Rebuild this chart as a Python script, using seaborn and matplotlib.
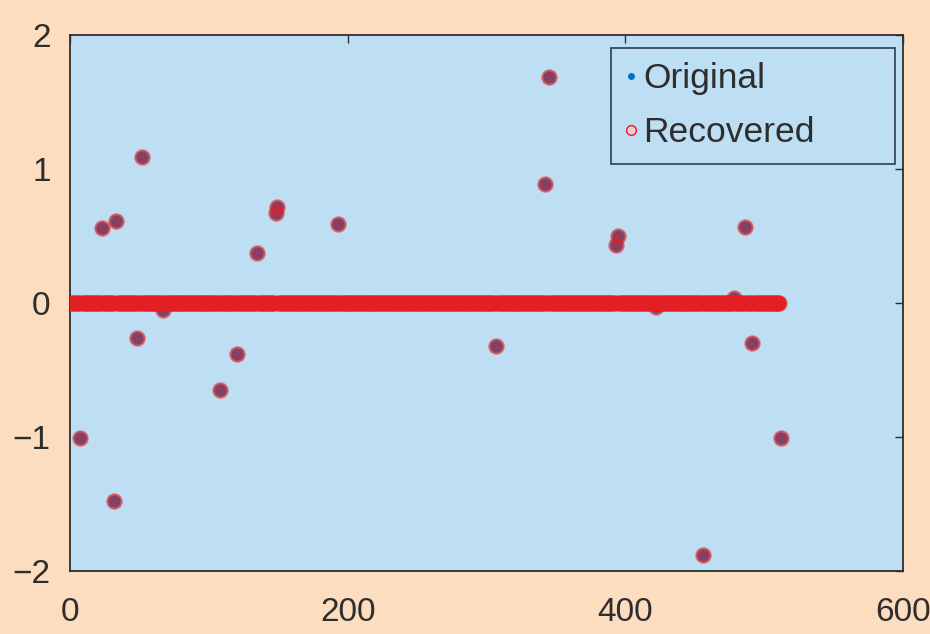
import numpy as np
import pandas as pd
import matplotlib
matplotlib.use('Agg')
import matplotlib.pyplot as plt
import seaborn as sns
from matplotlib.lines import Line2D

# sparse signal, length 512 (non-zero entries)
n_samples = 512
spike_idx = [7, 23, 33, 32, 52, 48, 67, 108, 120, 135, 148, 149, 193,
             307, 342, 345, 393, 395, 422, 456, 478, 486, 491, 512]
spike_val = [-1.01, 0.56, 0.61, -1.48, 1.09, -0.26, -0.05, -0.65, -0.38, 0.37, 0.67, 0.72, 0.59,
             -0.32, 0.89, 1.69, 0.43, 0.50, -0.03, -1.88, 0.04, 0.57, -0.30, -1.01]

x_ticks = [0, 200, 400, 600]
y_ticks = [-2, -1, 0, 1, 2]

original = np.zeros(n_samples)
original[np.array(spike_idx) - 1] = spike_val
recovered = original.copy()

df = pd.DataFrame({'n': np.arange(1, n_samples + 1),
                   'original': original,
                   'recovered': recovered})

sns.set_style('white')
plt.rcParams['font.family'] = ['Liberation Sans', 'DejaVu Sans']

peach = '#FCDDBF'
sky = '#BEDFF3'
red = '#E41E24'
blue = '#0072BD'
ink = '#2E2E2E'

fig = plt.figure(figsize=(9.3, 6.34), dpi=100, facecolor=peach)
ax = fig.add_axes([0.0753, 0.0994, 0.8957, 0.8454])
ax.set_facecolor(sky)

# original as blue dots
sns.scatterplot(data=df, x='n', y='original', ax=ax, color=blue, s=80,
                linewidth=0, zorder=2, legend=False)
# recovered as red circles drawn on top
sns.scatterplot(data=df, x='n', y='recovered', ax=ax, s=115,
                facecolor=(0.89, 0.12, 0.14, 0.6),
                edgecolor=(0.89, 0.12, 0.14, 0.45),
                linewidth=1.2, zorder=3, legend=False)

ax.set_xlim(0, 600)
ax.set_ylim(-2, 2)
ax.set_xticks(x_ticks)
ax.set_yticks(y_ticks)
ax.set_xlabel('')
ax.set_ylabel('')
ax.tick_params(direction='in', length=6, width=1, colors=ink, labelsize=24,
               top=True, right=True, labeltop=False, labelright=False)
ax.tick_params(axis='x', pad=19)
ax.tick_params(axis='y', pad=14)
for sp in ax.spines.values():
    sp.set_color(ink)
    sp.set_linewidth(1.3)
    sp.set_visible(True)

handles = [Line2D([], [], marker='o', linestyle='none', color=blue, markersize=4),
           Line2D([], [], marker='o', linestyle='none', markerfacecolor='#F8C8D2',
                  markeredgecolor=red, markersize=7, markeredgewidth=1)]
leg = ax.legend(handles, ['Original', 'Recovered'], loc='upper left',
                bbox_to_anchor=(0.6495, 0.7668, 0.341, 0.209), mode='expand',
                fontsize=25.5, frameon=True, fancybox=False, handlelength=0.3,
                handletextpad=0.2, borderpad=0.4, labelspacing=0.6,
                borderaxespad=0)
leg.get_frame().set_facecolor(sky)
leg.get_frame().set_edgecolor('#3A4A55')
leg.get_frame().set_linewidth(1.3)
leg.get_frame().set_alpha(1)
for t in leg.get_texts():
    t.set_color(ink)

fig.savefig('out.png', dpi=100, facecolor=peach)
